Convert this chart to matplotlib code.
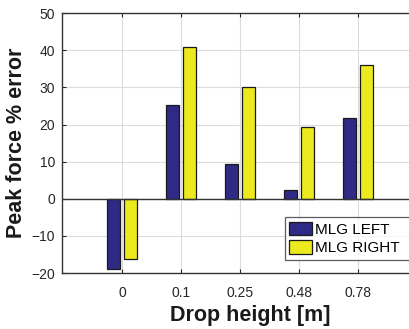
import numpy as np
import matplotlib.pyplot as plt

plt.rcParams["font.family"] = ["Liberation Sans", "DejaVu Sans"]

# Data
heights = ["0", "0.1", "0.25", "0.48", "0.78"]
mlg_left = [-18.8, 25.2, 9.3, 2.4, 21.8]
mlg_right = [-16.1, 40.8, 30.0, 19.3, 36.1]
series_names = ["MLG LEFT", "MLG RIGHT"]
yticks = [-20, -10, 0, 10, 20, 30, 40, 50]


def main():
    fig = plt.figure(figsize=(4.10, 3.29), dpi=100)
    # axes run off the right edge of the picture, as in the reference
    ax = fig.add_axes([0.151, 0.170, 0.92, 0.790])

    x = np.arange(len(heights))
    w = 0.22
    off = 0.145
    ax.bar(x - off, mlg_left, w, color="#2f2a86", edgecolor="#1a1a1a",
           linewidth=0.9, label=series_names[0], zorder=3)
    ax.bar(x + off, mlg_right, w, color="#ece91e", edgecolor="#1a1a1a",
           linewidth=0.9, label=series_names[1], zorder=3)

    # baseline
    ax.axhline(0, color="#333333", linewidth=1.0, zorder=4)

    ax.set_xlim(-1.02, 5.38)
    ax.set_ylim(-20, 50)
    ax.set_xticks(x)
    ax.set_xticklabels(heights)
    ax.set_yticks(yticks)

    ax.grid(True, color="#dcdcdc", linewidth=0.8, zorder=0)
    ax.set_axisbelow(True)
    ax.tick_params(direction="in", length=3, width=0.8, colors="#262626",
                   labelsize=10, top=True, right=False)
    ax.tick_params(axis="x", pad=9)
    ax.tick_params(axis="y", pad=5)
    for sp in ax.spines.values():
        sp.set_color("#333333")
        sp.set_linewidth(1.0)
    ax.spines["right"].set_visible(False)

    ax.set_xlabel("Drop height [m]", fontsize=15.5, fontweight="bold",
                  color="#1a1a1a", labelpad=4)
    ax.set_ylabel("Peak force % error", fontsize=15.5, fontweight="bold",
                  color="#1a1a1a", labelpad=3)

    leg = ax.legend(loc="upper left", bbox_to_anchor=(0.591, 0.0, 0.4, 0.215),
                    mode="expand", fontsize=11, frameon=True, fancybox=False,
                    handlelength=1.5, handleheight=1.0, handletextpad=0.15,
                    borderpad=0.3, labelspacing=0.2, borderaxespad=0)
    leg.get_frame().set_edgecolor("#333333")
    leg.get_frame().set_linewidth(0.9)

    fig.savefig("out.png", dpi=100, bbox_inches=None)


if __name__ == "__main__":
    main()
